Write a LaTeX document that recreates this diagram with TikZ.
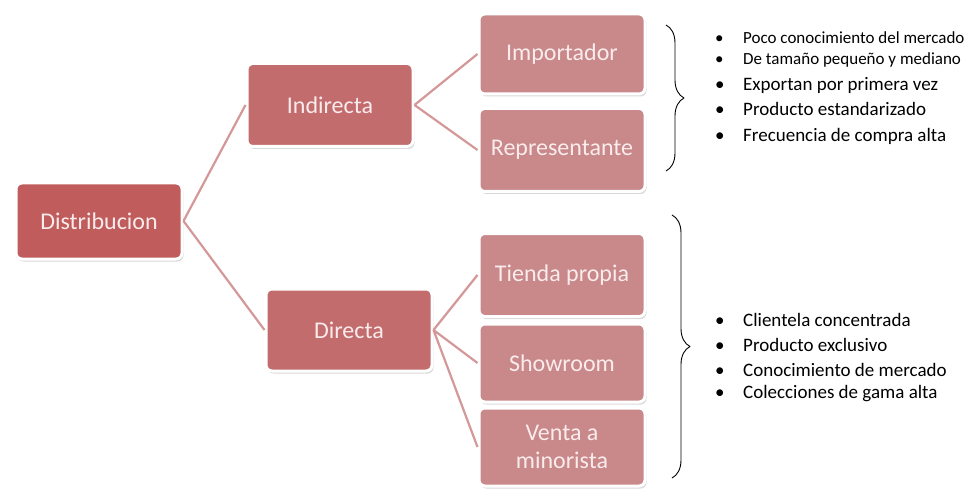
\documentclass[tikz,border=0pt]{standalone}
\usepackage{fontspec}
\setmainfont{Carlito}
\usetikzlibrary{positioning,shadows,decorations.pathreplacing}
\definecolor{rootred}{RGB}{192,92,92}
\definecolor{midred}{RGB}{195,108,110}
\definecolor{leafred}{RGB}{201,136,138}
\definecolor{linkred}{RGB}{212,152,152}
\definecolor{boxtext}{RGB}{250,236,236}
\tikzstyle{every node}=[font=\fontsize{24}{28}\selectfont]
\tikzstyle{every path}=[line join=round]
\tikzstyle{box}=[rectangle,rounded corners=6pt,draw=white,line width=3pt,text=boxtext,
  align=center,inner sep=2pt,minimum width=166pt,
  drop shadow={opacity=0.3,shadow xshift=1.5pt,shadow yshift=-2.5pt}]
\tikzstyle{link}=[draw=linkred,line width=2.2pt]
\tikzstyle{brc}=[decorate,decoration={brace,amplitude=18pt},line width=0.9pt]
\tikzstyle{item}=[anchor=west,inner sep=0pt,text=black]

\begin{document}
\begin{tikzpicture}[x=1pt,y=-1pt]
  \useasboundingbox[fill=white] (0,0) rectangle (975,492);
  \node[box,fill=rootred,minimum height=76pt] (dist) at (99,221) {Distribucion};
  \node[box,fill=midred,minimum height=83pt] (ind) at (330,105) {Indirecta};
  \node[box,fill=midred,minimum height=82pt] (dir) at (349,330) {Directa};
  \node[box,fill=leafred,minimum height=80pt] (imp) at (562,54) {Importador};
  \node[box,fill=leafred,minimum height=83pt] (rep) at (562,150) {Representante};
  \node[box,fill=leafred,minimum height=83pt] (tie) at (562,275) {Tienda propia};
  \node[box,fill=leafred,minimum height=78pt] (sho) at (562,363) {Showroom};
  \node[box,fill=leafred,minimum height=78pt] (ven) at (562,447) {Venta a\\minorista};
  \draw[link] (dist.east)--(ind.west) (dist.east)--(dir.west)
    (ind.east)--(imp.west) (ind.east)--(rep.west)
    (dir.east)--(tie.west) (dir.east)--(sho.west) (dir.east)--(ven.west);
  \coordinate (b1) at (666,25);
  \coordinate (b2) at (666,171);
  \coordinate (b3) at (672,215);
  \coordinate (b4) at (672,478);
  \draw[brc] (b1)--(b2);
  \draw[brc] (b3)--(b4);
  \foreach \y/\s/\txt [count=\i] in {38/17/Poco conocimiento del mercado,
      60/17/De tamaño pequeño y mediano,85/19/Exportan por primera vez,
      109/19/Producto estandarizado,136/19/Frecuencia de compra alta}
    \node[item,font=\fontsize{\s}{\s}\selectfont] (a\i) at (715,\y)
      {\makebox[28pt][l]{\textbullet}\txt};
  \foreach \y/\txt [count=\i] in {320/Clientela concentrada,345/Producto exclusivo,
      370/Conocimiento de mercado,394/Colecciones de gama alta}
    \node[item,font=\fontsize{19}{19}\selectfont] (c\i) at (715,\y)
      {\makebox[28pt][l]{\textbullet}\txt};
\end{tikzpicture}
\end{document}
